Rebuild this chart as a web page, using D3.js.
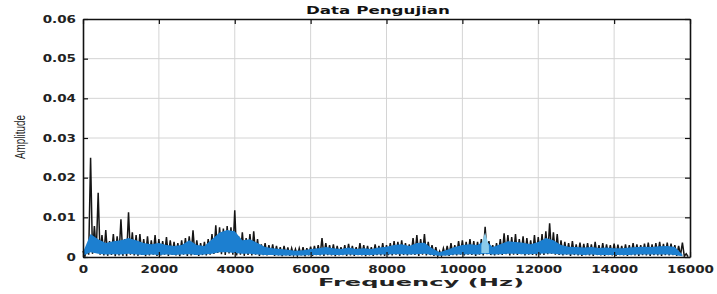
<!DOCTYPE html>
<html>
<head>
<meta charset="utf-8">
<script src="https://cdn.jsdelivr.net/npm/d3@7"></script>
<style>
  body { margin: 0; background: #fff; }
  svg { display: block; }
</style>
</head>
<body>
<svg id="chart" width="717" height="294"></svg>
<script>
// Black trace: peak and trough per 100 Hz bin (0 .. 15900 Hz)
const blackPeak = [
  0.0015, 0.0020, 0.0250, 0.0078, 0.0162, 0.0055, 0.0068, 0.0040, 0.0058, 0.0052,
  0.0095, 0.0045, 0.0113, 0.0062, 0.0055, 0.0058, 0.0045, 0.0052, 0.0042, 0.0055,
  0.0045, 0.0040, 0.0050, 0.0042, 0.0038, 0.0035, 0.0042, 0.0048, 0.0052, 0.0067,
  0.0042, 0.0035, 0.0038, 0.0045, 0.0058, 0.0080, 0.0075, 0.0072, 0.0078, 0.0075,
  0.0118, 0.0052, 0.0062, 0.0048, 0.0058, 0.0065, 0.0045, 0.0032, 0.0035, 0.0030,
  0.0032, 0.0028, 0.0025, 0.0028, 0.0024, 0.0022, 0.0020, 0.0022, 0.0025, 0.0022,
  0.0026, 0.0028, 0.0030, 0.0048, 0.0035, 0.0030, 0.0032, 0.0028, 0.0025, 0.0030,
  0.0033, 0.0028, 0.0025, 0.0035, 0.0030, 0.0028, 0.0025, 0.0032, 0.0028, 0.0035,
  0.0030, 0.0035, 0.0040, 0.0038, 0.0042, 0.0035, 0.0032, 0.0048, 0.0055, 0.0045,
  0.0058, 0.0038, 0.0030, 0.0025, 0.0015, 0.0022, 0.0028, 0.0035, 0.0030, 0.0040,
  0.0042, 0.0038, 0.0045, 0.0040, 0.0038, 0.0045, 0.0076, 0.0040, 0.0030, 0.0035,
  0.0045, 0.0060, 0.0055, 0.0050, 0.0058, 0.0045, 0.0052, 0.0048, 0.0042, 0.0055,
  0.0050, 0.0058, 0.0065, 0.0085, 0.0062, 0.0058, 0.0042, 0.0038, 0.0035, 0.0040,
  0.0032, 0.0036, 0.0033, 0.0035, 0.0032, 0.0038, 0.0030, 0.0035, 0.0032, 0.0030,
  0.0034, 0.0031, 0.0028, 0.0032, 0.0030, 0.0035, 0.0032, 0.0030, 0.0034, 0.0036,
  0.0032, 0.0035, 0.0038, 0.0033, 0.0036, 0.0034, 0.0030, 0.0028, 0.0036, 0.0008
];
const blackLow = [
  0.0002, 0.0006, 0.0008, 0.0012, 0.0006, 0.0004, 0.0003, 0.0005, 0.0002, 0.0004,
  0.0003, 0.0002, 0.0006, 0.0004, 0.0003, 0.0005, 0.0002, 0.0004, 0.0006, 0.0003,
  0.0004, 0.0006, 0.0003, 0.0005, 0.0004, 0.0002, 0.0006, 0.0003, 0.0004, 0.0005,
  0.0003, 0.0005, 0.0004, 0.0006, 0.0008, 0.0010, 0.0007, 0.0005, 0.0009, 0.0006,
  0.0004, 0.0006, 0.0003, 0.0005, 0.0004, 0.0006, 0.0003, 0.0005, 0.0004, 0.0006,
  0.0003, 0.0004, 0.0002, 0.0004, 0.0003, 0.0005, 0.0003, 0.0004, 0.0002, 0.0004,
  0.0003, 0.0005, 0.0004, 0.0003, 0.0005, 0.0004, 0.0002, 0.0004, 0.0005, 0.0003,
  0.0004, 0.0003, 0.0005, 0.0004, 0.0002, 0.0004, 0.0003, 0.0005, 0.0004, 0.0003,
  0.0005, 0.0004, 0.0006, 0.0003, 0.0005, 0.0004, 0.0006, 0.0005, 0.0003, 0.0006,
  0.0004, 0.0005, 0.0003, 0.0002, 0.0003, 0.0004, 0.0003, 0.0005, 0.0004, 0.0006,
  0.0004, 0.0006, 0.0005, 0.0003, 0.0006, 0.0004, 0.0007, 0.0005, 0.0004, 0.0006,
  0.0005, 0.0007, 0.0004, 0.0006, 0.0005, 0.0007, 0.0004, 0.0006, 0.0005, 0.0004,
  0.0006, 0.0005, 0.0007, 0.0008, 0.0006, 0.0005, 0.0004, 0.0006, 0.0003, 0.0005,
  0.0004, 0.0003, 0.0005, 0.0004, 0.0003, 0.0005, 0.0004, 0.0003, 0.0005, 0.0004,
  0.0003, 0.0005, 0.0004, 0.0003, 0.0005, 0.0004, 0.0003, 0.0005, 0.0004, 0.0003,
  0.0005, 0.0004, 0.0003, 0.0005, 0.0004, 0.0005, 0.0003, 0.0004, 0.0002, 0.0001
];
const blackStep = 100;

// Blue trace band per 200 Hz (0 .. 15800 Hz)
const blueHigh = [
  0.0012, 0.0058, 0.0045, 0.0035, 0.0040, 0.0042, 0.0048, 0.0042, 0.0035, 0.0032,
  0.0035, 0.0030, 0.0028, 0.0030, 0.0042, 0.0030, 0.0028, 0.0045, 0.0062, 0.0068,
  0.0065, 0.0042, 0.0045, 0.0035, 0.0025, 0.0022, 0.0020, 0.0018, 0.0016, 0.0017,
  0.0020, 0.0022, 0.0025, 0.0022, 0.0020, 0.0024, 0.0020, 0.0022, 0.0020, 0.0024,
  0.0026, 0.0030, 0.0032, 0.0028, 0.0035, 0.0036, 0.0022, 0.0012, 0.0018, 0.0025,
  0.0030, 0.0032, 0.0030, 0.0042, 0.0025, 0.0032, 0.0040, 0.0038, 0.0036, 0.0032,
  0.0038, 0.0048, 0.0042, 0.0030, 0.0026, 0.0025, 0.0024, 0.0025, 0.0023, 0.0024,
  0.0022, 0.0022, 0.0024, 0.0025, 0.0026, 0.0025, 0.0027, 0.0028, 0.0025, 0.0006
];
const blueLow = [
  0.0003, 0.0012, 0.0008, 0.0006, 0.0007, 0.0006, 0.0008, 0.0006, 0.0005, 0.0006,
  0.0005, 0.0006, 0.0005, 0.0006, 0.0007, 0.0005, 0.0006, 0.0008, 0.0012, 0.0012,
  0.0010, 0.0008, 0.0008, 0.0006, 0.0005, 0.0005, 0.0004, 0.0004, 0.0004, 0.0004,
  0.0005, 0.0005, 0.0006, 0.0005, 0.0005, 0.0006, 0.0005, 0.0005, 0.0005, 0.0006,
  0.0006, 0.0007, 0.0007, 0.0006, 0.0007, 0.0008, 0.0005, 0.0003, 0.0004, 0.0006,
  0.0006, 0.0007, 0.0006, 0.0008, 0.0006, 0.0007, 0.0008, 0.0008, 0.0007, 0.0007,
  0.0008, 0.0009, 0.0008, 0.0006, 0.0006, 0.0006, 0.0005, 0.0006, 0.0005, 0.0005,
  0.0005, 0.0005, 0.0005, 0.0006, 0.0006, 0.0006, 0.0006, 0.0006, 0.0005, 0.0002
];
const blueStep = 200;

// light cyan burst near 10.6 kHz
const cyanFreq = [10500, 10550, 10600, 10650, 10700];
const cyanAmp = [0.0030, 0.0048, 0.0062, 0.0045, 0.0028];

const xTicks = [0, 2000, 4000, 6000, 8000, 10000, 12000, 14000, 16000];
const yTicks = [0, 0.01, 0.02, 0.03, 0.04, 0.05, 0.06];

const margin = { top: 19, right: 27, bottom: 37, left: 83 };
const width = 717, height = 294;
const iw = width - margin.left - margin.right;
const ih = height - margin.top - margin.bottom;

const svg = d3.select('#chart');
const g = svg.append('g').attr('transform', `translate(${margin.left},${margin.top})`);

const x = d3.scaleLinear().domain([0, 16000]).range([0, iw]);
const y = d3.scaleLinear().domain([0, 0.06]).range([ih, 0]);

// grid
g.append('g')
  .selectAll('line')
  .data(xTicks.slice(1, -1))
  .join('line')
  .attr('x1', d => x(d)).attr('x2', d => x(d))
  .attr('y1', 0).attr('y2', ih)
  .attr('stroke', '#d4d4d4').attr('stroke-width', 1);
g.append('g')
  .selectAll('line')
  .data(yTicks.slice(1, -1))
  .join('line')
  .attr('x1', 0).attr('x2', iw)
  .attr('y1', d => y(d)).attr('y2', d => y(d))
  .attr('stroke', '#d4d4d4').attr('stroke-width', 1);

// black trace: zig-zag peak -> trough
const blackPts = [];
blackPeak.forEach((v, i) => {
  blackPts.push([i * blackStep, v]);
  blackPts.push([i * blackStep + blackStep / 2, blackLow[i]]);
});
const line = d3.line().x(d => x(d[0])).y(d => y(d[1]));
g.append('path')
  .attr('d', line(blackPts))
  .attr('fill', 'none')
  .attr('stroke', '#151515')
  .attr('stroke-width', 1.5);

// blue band
const blueArea = d3.area()
  .x((d, i) => x(i * blueStep))
  .y0((d, i) => y(blueLow[i]))
  .y1(d => y(d));
g.append('path')
  .attr('d', blueArea(blueHigh))
  .attr('fill', '#1c7fd0');

const cyanArea = d3.area()
  .x((d, i) => x(cyanFreq[i]))
  .y0(y(0.0010))
  .y1(d => y(d));
g.append('path')
  .attr('d', cyanArea(cyanAmp))
  .attr('fill', '#8ccbea');

// axes box with inward ticks
const fmtY = d => d === 0 ? '0' : d3.format('.2f')(d);
const sx = 1.35;

const xAxis = g.append('g')
  .attr('transform', `translate(0,${ih})`)
  .call(d3.axisBottom(x).tickValues(xTicks).tickFormat(d3.format('d')).tickSize(-5).tickSizeOuter(0).tickPadding(9));
const xTop = g.append('g')
  .call(d3.axisTop(x).tickValues(xTicks).tickSize(-5).tickSizeOuter(0).tickFormat(''));
const yAxis = g.append('g')
  .call(d3.axisLeft(y).tickValues(yTicks).tickSize(-5).tickSizeOuter(0).tickFormat(fmtY).tickPadding(7));
const yRight = g.append('g')
  .attr('transform', `translate(${iw},0)`)
  .call(d3.axisRight(y).tickValues(yTicks).tickSize(-5).tickSizeOuter(0).tickFormat(''));

[xAxis, xTop, yAxis, yRight].forEach(a => {
  a.select('.domain').attr('stroke', '#111').attr('stroke-width', 1.6);
  a.selectAll('.tick line').attr('stroke', '#111').attr('stroke-width', 1.2);
  a.selectAll('text')
    .attr('fill', '#222')
    .attr('font-family', 'DejaVu Sans')
    .attr('font-weight', 'bold')
    .attr('font-size', 10);
});
xAxis.selectAll('text').attr('transform', `scale(${sx},1)`);
yAxis.selectAll('text')
  .attr('x', -7 / sx)
  .attr('transform', `scale(${sx},1)`);

// title and labels
svg.append('text')
  .attr('x', 378).attr('y', 14)
  .attr('text-anchor', 'middle')
  .attr('font-family', 'DejaVu Sans')
  .attr('font-weight', 'bold')
  .attr('font-size', 10)
  .attr('textLength', 144)
  .attr('lengthAdjust', 'spacingAndGlyphs')
  .attr('fill', '#111')
  .text('Data Pengujian');

svg.append('text')
  .attr('x', 421).attr('y', 286)
  .attr('text-anchor', 'middle')
  .attr('font-family', 'DejaVu Sans')
  .attr('font-weight', 'bold')
  .attr('font-size', 10)
  .attr('textLength', 206)
  .attr('lengthAdjust', 'spacingAndGlyphs')
  .attr('fill', '#222')
  .text('Frequency (Hz)');

svg.append('text')
  .attr('transform', 'translate(25,137) rotate(-90)')
  .attr('text-anchor', 'middle')
  .attr('font-family', 'Liberation Sans')
  .attr('font-size', 15)
  .attr('textLength', 44)
  .attr('lengthAdjust', 'spacingAndGlyphs')
  .attr('fill', '#222')
  .text('Amplitude');
</script>
</body>
</html>
